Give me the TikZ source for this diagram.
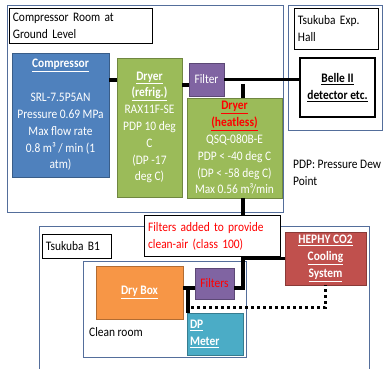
\documentclass[tikz,border=0pt]{standalone}
\usepackage{fontspec}
\setmainfont{Carlito}[FakeStretch=0.88]
\definecolor{cmpblue}{HTML}{4F81BD}
\definecolor{drygreen}{HTML}{9BBB59}
\definecolor{filtpurple}{HTML}{8064A2}
\definecolor{boxorange}{HTML}{F79646}
\definecolor{metteal}{HTML}{4BACC6}
\definecolor{coolred}{HTML}{C0504D}
\definecolor{roomline}{RGB}{84,110,155}
\newcommand{\hd}[1]{\underline{\textbf{#1}}}

\begin{document}
\begin{tikzpicture}[x=1pt,y=-1pt,font=\fontsize{13}{16.8}\selectfont,
  blk/.style={draw=#1!72!black,fill=#1,text=white,line width=0.8pt,align=center,inner sep=1pt},
  lbl/.style={draw,fill=white,line width=0.8pt,align=left,anchor=north west,inner sep=3.5pt},
  room/.style={draw=roomline,line width=0.8pt},
  pipe/.style={line width=3.5pt},
  dots/.style={line width=3pt,dash pattern=on 3pt off 3pt}]
\useasboundingbox (0,0) rectangle (383,369);
\draw[room] (7,5) rectangle (283,212);
\draw[room] (288,5) rectangle (382,130);
\draw[room] (39,372) -- (39,226) -- (369,226) -- (369,372);
\draw[room] (83,261) rectangle (246,357);
\node[lbl,text width=136,minimum height=35] (GL) at (9,8) {Compressor Room at\\Ground Level};
\node[lbl,text width=77,minimum height=41] (EH) at (294,8) {Tsukuba Exp.\\Hall};
\node[lbl,text width=62,minimum height=24] (B1) at (42,234) {Tsukuba B1};
\node[blk=cmpblue,minimum width=97,minimum height=124] (C) at (60.5,115) {\hd{Compressor}\\[17pt]SRL-7.5P5AN\\Pressure 0.69 MPa\\Max flow rate\\0.8 m³ / min (1\\atm)};
\node[blk=drygreen,minimum width=65,minimum height=139] (Dr) at (149.5,127.5) {\hd{Dryer}\\\hd{(refrig.)}\\RAX11F-SE\\PDP 10 deg\\C\\(DP -17\\deg C)};
\node[blk=filtpurple,minimum width=35,minimum height=33] (F) at (206.5,79.5) {Filter};
\node[draw,fill=white,line width=1.2pt,align=center,minimum width=75,minimum height=59] (B) at (337.5,87.5) {\hd{Belle II}\\\hd{detector etc.}};
\node[blk=drygreen,minimum width=95,minimum height=100] (Dh) at (234.5,148) {\textcolor{red}{\hd{Dryer}}\\\textcolor{red}{\hd{(heatless)}}\\QSQ-080B-E\\PDP < -40 deg C\\(DP < -58 deg C)\\Max 0.56 m³/min};
\node[anchor=north west,align=left,inner sep=0pt] (pdp) at (293,160) {PDP: Pressure Dew\\Point};
\node[blk=boxorange,minimum width=87,minimum height=53] (DB) at (139.5,292.5) {\hd{Dry Box}};
\node[blk=filtpurple,minimum width=39,minimum height=31,text=red] (F2) at (214.5,283.5) {Filters};
\node[blk=metteal,minimum width=56,minimum height=42,align=left,text width=50] (DP) at (215,334) {\hd{DP}\\\hd{Meter}};
\node[blk=coolred,minimum width=81,minimum height=53] (H) at (325.5,258.5) {\hd{HEPHY CO2}\\\hd{Cooling}\\\hd{System}};
\node[anchor=west,inner sep=0pt] (cr) at (89,332) {Clean room};
\coordinate (t1) at (243,84);
\coordinate (t2) at (243,288);
\coordinate (t3) at (188,288);
\coordinate (d0) at (191,307);
\draw[pipe] ([yshift=35pt]C.east) -- ([yshift=35pt]C.east -| Dr.west);
\draw[pipe] ([yshift=-5.5pt]F.west) -- ([yshift=-5.5pt]F.west -| Dr.east);
\draw[pipe] (F.east) -- (F.east -| B.west);
\draw[pipe] (t1) -- (t1 |- Dh.north);
\draw[pipe] (Dh.south -| t1) -- (t2) -- (t2 -| F2.east);
\draw[pipe] (H.west) -- (H.west -| t1);
\draw[pipe] (DB.east |- t3) -- (t3 -| F2.west);
\draw[pipe] (t3) -- (t3 |- DP.north);
\draw[dots] (d0) -- (d0 -| H.south) -- (H.south);
\node[draw,fill=white,line width=1.2pt,align=left,text=red,anchor=north west,text width=129,minimum height=41,inner sep=3.5pt] (N) at (144,215) {Filters added to provide\\clean-air (class 100)};
\end{tikzpicture}
\end{document}
